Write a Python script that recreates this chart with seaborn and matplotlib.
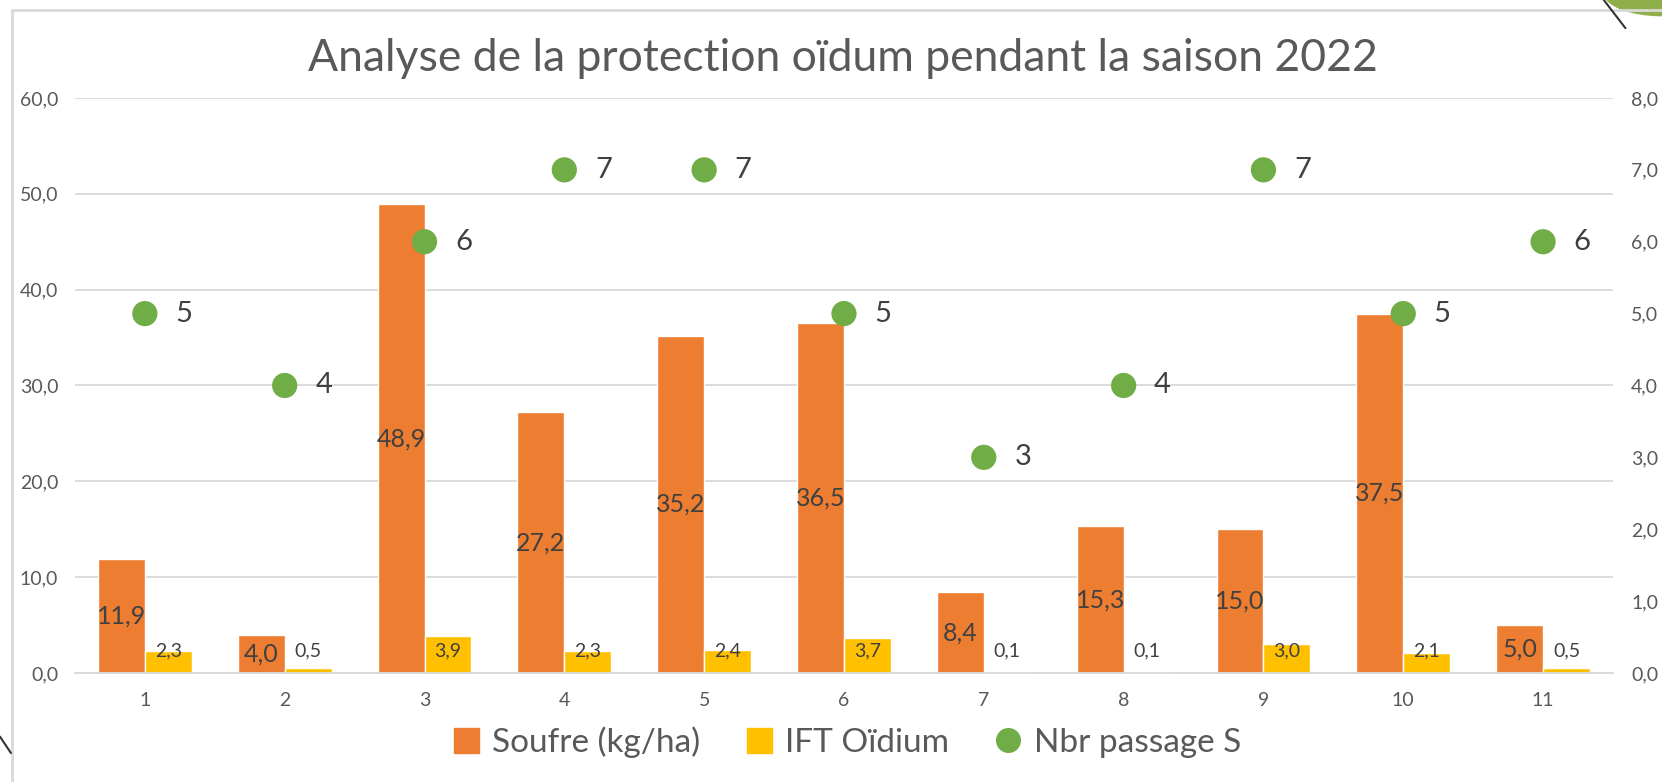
import numpy as np
import pandas as pd
import matplotlib.pyplot as plt
import matplotlib.patches as mpatches
from matplotlib.lines import Line2D
import seaborn as sns

# donnees
parcelles = ["1", "2", "3", "4", "5", "6", "7", "8", "9", "10", "11"]
soufre = [11.9, 4.0, 48.9, 27.2, 35.2, 36.5, 8.4, 15.3, 15.0, 37.5, 5.0]
ift = [2.3, 0.5, 3.9, 2.3, 2.4, 3.7, 0.1, 0.1, 3.0, 2.1, 0.5]
passages = [5, 4, 6, 7, 7, 5, 3, 4, 7, 5, 6]

c_soufre = "#ED7D31"
c_ift = "#FFC000"
c_pass = "#70AD47"
gris = "#595959"

sns.set_style("white")
plt.rcParams['font.family'] = ['Lato', 'DejaVu Sans']

df = pd.DataFrame({
    "parcelle": parcelles * 2,
    "valeur": soufre + ift,
    "serie": ["Soufre (kg/ha)"] * 11 + ["IFT Oïdium"] * 11,
})

fig = plt.figure(figsize=(16.62, 7.82), dpi=100)
ax = fig.add_axes([0.0451, 0.1394, 0.9254, 0.7353])

sns.barplot(data=df, x="parcelle", y="valeur", hue="serie",
            palette=[c_soufre, c_ift], width=0.67, gap=0, ax=ax,
            saturation=1, legend=False, errorbar=None)

ax.set_ylim(0, 60)
ax.set_xlim(-0.5, 10.5)
ax.set_yticks(np.arange(0, 61, 10))
ax.set_yticklabels([f"{v:.1f}".replace(".", ",") for v in np.arange(0, 61, 10)])
ax.grid(axis="y", color="#D9D9D9", lw=1.3)
ax.set_axisbelow(True)
for s in ax.spines.values():
    s.set_visible(False)
ax.spines["bottom"].set_visible(True)
ax.spines["bottom"].set_color("#D9D9D9")
ax.spines["bottom"].set_linewidth(1.3)
ax.tick_params(axis="both", length=0, labelsize=14, labelcolor=gris)
ax.tick_params(axis="y", pad=12)
ax.tick_params(axis="x", pad=14)
ax.set_xlabel("")
ax.set_ylabel("")

# etiquettes des barres
bars_s, bars_i = ax.containers[0], ax.containers[1]
for b, v in zip(bars_s, soufre):
    ax.text(b.get_x() + b.get_width() / 2, v / 2, f"{v:.1f}".replace(".", ","),
            ha="center", va="center", fontsize=18, color="#404040")
for b, v in zip(bars_i, ift):
    ax.text(b.get_x() + b.get_width() / 2, max(v / 2, 2.3), f"{v:.1f}".replace(".", ","),
            ha="center", va="center", fontsize=14, color="#404040")

# axe secondaire : nombre de passages
ax2 = ax.twinx()
sns.scatterplot(x=np.arange(len(parcelles)), y=passages, ax=ax2, color=c_pass,
                s=330, edgecolor="none", zorder=3, legend=False)
ax2.set_ylim(0, 8)
ax2.set_xlim(-0.5, 10.5)
ax2.set_yticks(np.arange(0, 9, 1))
ax2.set_yticklabels([f"{v:.1f}".replace(".", ",") for v in np.arange(0, 9, 1)])
ax2.tick_params(axis="y", length=0, labelsize=14, labelcolor=gris, pad=13)
for s in ax2.spines.values():
    s.set_visible(False)
ax2.set_ylabel("")
for i, p in enumerate(passages):
    ax2.annotate(str(p), (i, p), xytext=(22, 0), textcoords="offset points",
                 ha="left", va="center", fontsize=21, color="#404040")

fig.text(0.507, 0.925, "Analyse de la protection oïdum pendant la saison 2022",
         ha="center", va="center", fontsize=32, color=gris)

handles = [
    mpatches.Patch(color=c_soufre, label="Soufre (kg/ha)"),
    mpatches.Patch(color=c_ift, label="IFT Oïdium"),
    Line2D([], [], marker="o", ls="none", color=c_pass, markersize=17, label="Nbr passage S"),
]
fig.legend(handles=handles, loc="center", bbox_to_anchor=(0.51, 0.051), ncol=3,
           frameon=False, fontsize=24, labelcolor=gris, handlelength=0.75,
           handleheight=0.75, handletextpad=0.4, columnspacing=1.4)

# cadre et decorations de la capture
fig.add_artist(Line2D([0.007, 0.007], [0, 0.987], color="#D9D9D9", lw=2))
fig.add_artist(Line2D([0.007, 1], [0.987, 0.987], color="#D9D9D9", lw=2))
fig.add_artist(Line2D([0, 0.0066], [0.058, 0.037], color="#333333", lw=1.5))
fig.add_artist(mpatches.Ellipse((1.0, 1.01), 0.07, 0.06, color="#8FAF4A"))
fig.add_artist(Line2D([0.965, 0.978], [1.0, 0.964], color="#333333", lw=1.5))

fig.savefig("out.png", dpi=100, facecolor="white")
